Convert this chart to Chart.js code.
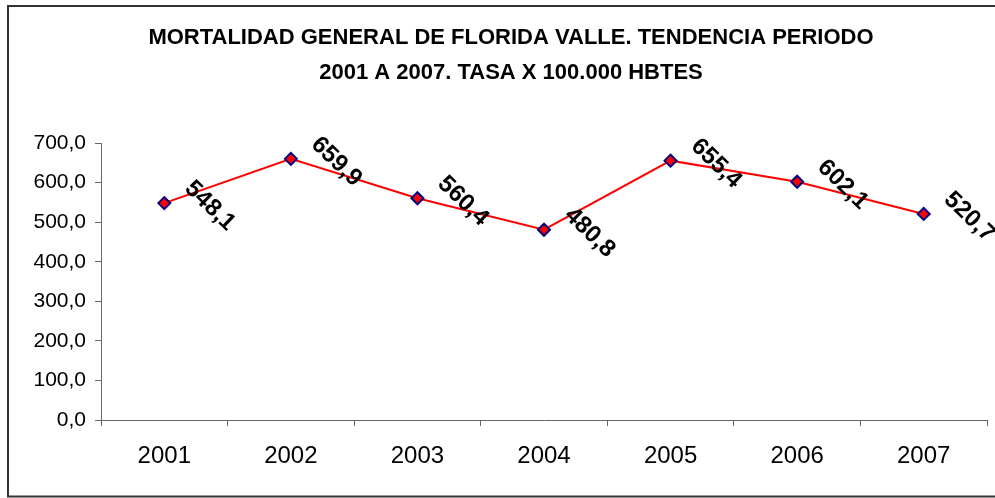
<!DOCTYPE html>
<html>
<head>
<meta charset="utf-8">
<script src="https://cdn.jsdelivr.net/npm/chart.js@4/dist/chart.umd.min.js"></script>
<style>
html,body{margin:0;padding:0;background:#fff;}
#wrap{position:relative;width:995px;height:498px;}
</style>
</head>
<body>
<div id="wrap"><canvas id="c" width="995" height="498"></canvas></div>
<script>
const categories = ['2001','2002','2003','2004','2005','2006','2007'];
const values = [548.1, 659.9, 560.4, 480.8, 655.4, 602.1, 520.7];
const yTicks = [0,100,200,300,400,500,600,700];
const titleLines = ['MORTALIDAD GENERAL DE FLORIDA VALLE. TENDENCIA PERIODO','2001 A 2007. TASA X 100.000 HBTES'];

const fmt = v => v.toFixed(1).replace('.', ',');

const frame = {
  id: 'frame',
  beforeDraw(chart) {
    const ctx = chart.ctx;
    ctx.save();
    ctx.fillStyle = '#fff';
    ctx.fillRect(0,0,chart.width,chart.height);
    ctx.strokeStyle = '#333';
    ctx.lineWidth = 2;
    ctx.strokeRect(8, 6, 1000, 490.5);
    ctx.fillStyle = '#000';
    ctx.font = 'bold 22px "Liberation Sans", Arial, sans-serif';
    ctx.textAlign = 'center';
    ctx.textBaseline = 'middle';
    ctx.fillText(titleLines[0], 511, 38);
    ctx.fillText(titleLines[1], 511, 73);
    ctx.restore();
  }
};

const labels = {
  id: 'labels',
  afterDatasetsDraw(chart) {
    const ctx = chart.ctx;
    const meta = chart.getDatasetMeta(0);
    ctx.save();
    ctx.fillStyle = '#000';
    ctx.font = 'bold 24px "Liberation Sans", Arial, sans-serif';
    ctx.textAlign = 'left';
    ctx.textBaseline = 'middle';
    meta.data.forEach((pt, i) => {
      ctx.save();
      ctx.translate(pt.x + 24, pt.y - 18);
      ctx.rotate(44 * Math.PI / 180);
      ctx.fillText(fmt(values[i]), 0, 0);
      ctx.restore();
    });
    ctx.restore();
  }
};

new Chart(document.getElementById('c'), {
  type: 'line',
  data: {
    labels: categories,
    datasets: [{
      data: values,
      borderColor: '#ff0000',
      borderWidth: 2,
      tension: 0,
      pointStyle: 'rectRot',
      pointRadius: 6,
      pointHoverRadius: 6,
      pointBackgroundColor: '#ff0000',
      pointBorderColor: '#000080',
      pointBorderWidth: 2
    }]
  },
  options: {
    responsive: false,
    animation: false,
    devicePixelRatio: 1,
    layout: { padding: { left: 0, right: 7, top: 143, bottom: 0 } },
    plugins: { legend: { display: false }, title: { display: false }, tooltip: { enabled: false } },
    scales: {
      x: {
        offset: true,
        grid: { offset: true, drawOnChartArea: false, drawTicks: true, tickLength: 6, color: '#666' },
        border: { display: true, color: '#666', width: 1 },
        ticks: { color: '#000', font: { family: '"Liberation Sans", Arial, sans-serif', size: 24 }, padding: 16, maxRotation: 0 },
        afterFit(scale) { scale.height = 78; }
      },
      y: {
        min: 0, max: 700,
        afterBuildTicks(scale) { scale.ticks = yTicks.map(v => ({ value: v })); },
        grid: { drawOnChartArea: false, drawTicks: true, tickLength: 6, color: '#666' },
        border: { display: true, color: '#666', width: 1 },
        ticks: { color: '#000', font: { family: '"Liberation Sans", Arial, sans-serif', size: 21 }, padding: 9, callback: v => fmt(v) },
        afterFit(scale) { scale.width = 101; }
      }
    }
  },
  plugins: [frame, labels]
});
</script>
</body>
</html>
